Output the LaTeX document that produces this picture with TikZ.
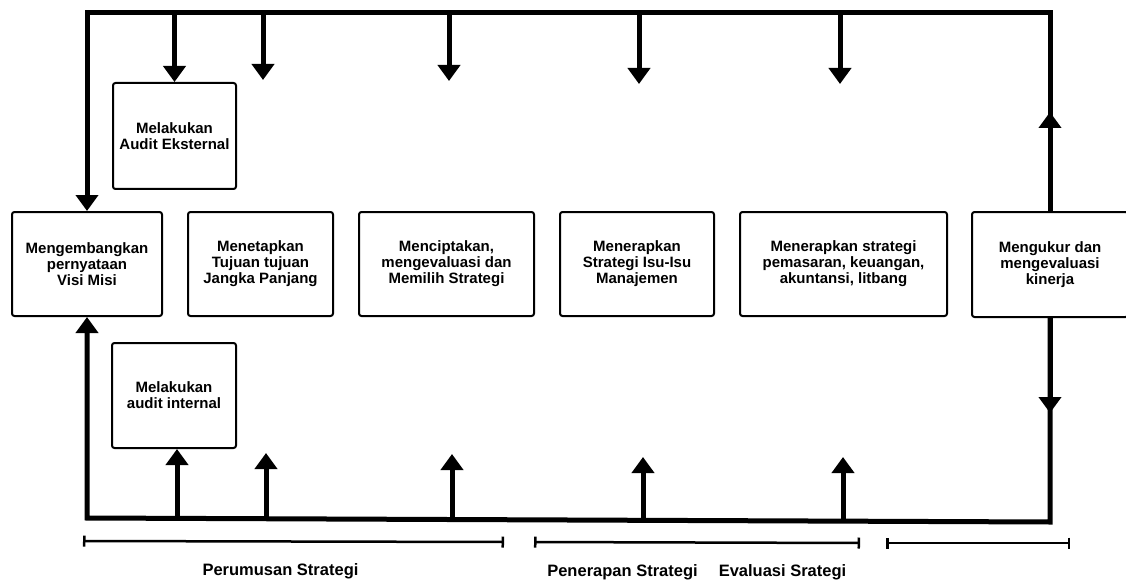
\documentclass[tikz,border=0pt]{standalone}
\usepackage{fontspec}
\setmainfont{Liberation Sans}
\usetikzlibrary{arrows.meta}
\begin{document}
\begin{tikzpicture}[x=1pt,y=-1pt,
  box/.style={draw,line width=2pt,rounded corners=2.5pt,inner sep=0pt,align=center,
    font=\bfseries\fontsize{15}{16}\selectfont},
  loopline/.style={line width=5pt},
  tipend/.style={-{Triangle[width=22pt,length=16pt]}},
  stem/.style={line width=5pt,tipend},
  brk/.style={line width=2.5pt,{Bar[width=11pt]}-{Bar[width=11pt]}},
  lbl/.style={font=\bfseries\fontsize{16.5}{18}\selectfont,anchor=base}]
\useasboundingbox (0,0) rectangle (1126,580);

% boxes
\node[box,minimum width=150pt,minimum height=104pt] (visi) at (87,264) {Mengembangkan\\pernyataan\\Visi Misi};
\node[box,minimum width=145pt,minimum height=104pt] (tujuan) at (260.5,264) {Menetapkan\\Tujuan tujuan\\Jangka Panjang};
\node[box,minimum width=175pt,minimum height=104pt] (cipta) at (446.5,264) {Menciptakan,\\mengevaluasi dan\\Memilih Strategi};
\node[box,minimum width=154pt,minimum height=104pt] (isu) at (637,264) {Menerapkan\\Strategi Isu-Isu\\Manajemen};
\node[box,minimum width=207pt,minimum height=104pt] (pemasaran) at (843.5,264) {Menerapkan strategi\\pemasaran, keuangan,\\akuntansi, litbang};
\node[box,minimum width=156pt,minimum height=105pt] (kinerja) at (1050,264.5) {Mengukur dan\\mengevaluasi\\kinerja};
\node[box,minimum width=123pt,minimum height=106pt] (ext) at (174.5,136) {Melakukan\\Audit Eksternal};
\node[box,minimum width=124pt,minimum height=105pt] (int) at (174,395.5) {Melakukan\\audit internal};

% loop corners
\coordinate (TL) at (87,13);
\coordinate (TR) at (1050,13);
\coordinate (BL) at (87,518);
\coordinate (BR) at (1050,522);

% main loop
\draw[loopline,tipend] (kinerja.north) -- (TR) -- (TL) -- (visi.north);
\draw[loopline,tipend] (kinerja.south) -- (BR) -- (BL) -- (visi.south);
\coordinate (upmid) at (1050,112);
\coordinate (downmid) at (1050,413);
\draw[stem] (kinerja.north) -- (upmid);
\draw[stem] (kinerja.south) -- (downmid);

% top arrows
\draw[stem] (ext.north |- TL) -- (ext.north);
\coordinate (t1s) at (263,13); \coordinate (t1) at (263,80);
\coordinate (t2s) at (449,13); \coordinate (t2) at (449,81);
\coordinate (t3s) at (639,13); \coordinate (t3) at (639,84);
\coordinate (t4s) at (840,13); \coordinate (t4) at (840,84);
\draw[stem] (t1s) -- (t1);
\draw[stem] (t2s) -- (t2);
\draw[stem] (t3s) -- (t3);
\draw[stem] (t4s) -- (t4);

% bottom arrows
\coordinate (b0s) at (177,519);
\draw[stem] (b0s) -- (int.south -| b0s);
\coordinate (b1s) at (266,519); \coordinate (b1) at (266,453);
\coordinate (b2s) at (452,520); \coordinate (b2) at (452,454);
\coordinate (b3s) at (643,520); \coordinate (b3) at (643,457);
\coordinate (b4s) at (843,521); \coordinate (b4) at (843,457);
\draw[stem] (b1s) -- (b1);
\draw[stem] (b2s) -- (b2);
\draw[stem] (b3s) -- (b3);
\draw[stem] (b4s) -- (b4);

% phase brackets
\coordinate (p1l) at (83,541); \coordinate (p1r) at (504,542);
\coordinate (p2l) at (534,542); \coordinate (p2r) at (860,543);
\coordinate (p3l) at (886,543); \coordinate (p3r) at (1070,543);
\draw[brk] (p1l) -- (p1r);
\draw[brk] (p2l) -- (p2r);
\draw[brk] (p3l) -- (p3r);

% labels
\node[lbl] (l1) at (280.5,575) {Perumusan Strategi};
\node[lbl] (l2) at (622.5,576) {Penerapan Strategi};
\node[lbl] (l3) at (782.5,576) {Evaluasi Srategi};
\end{tikzpicture}
\end{document}
